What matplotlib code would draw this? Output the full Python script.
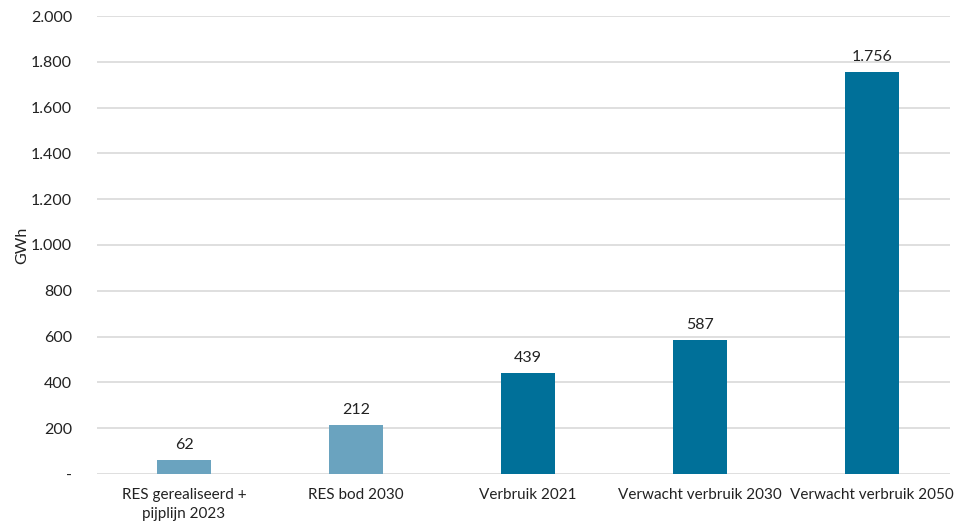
import matplotlib
matplotlib.use("Agg")
import matplotlib.pyplot as plt
from matplotlib.ticker import FuncFormatter

categories = ["RES gerealiseerd +\npijplijn 2023", "RES bod 2030", "Verbruik 2021",
              "Verwacht verbruik 2030", "Verwacht verbruik 2050"]
values = [62, 212, 439, 587, 1756]
colors = ["#6aa3bf", "#6aa3bf", "#007099", "#007099", "#007099"]

plt.rcParams["font.family"] = ["Lato", "DejaVu Sans"]

def nl_fmt(v, pos=None):
    if v == 0:
        return "-"
    return f"{int(v):,}".replace(",", ".")

fig = plt.figure(figsize=(9.55, 5.25), dpi=100)
ax = fig.add_axes([97 / 955, 1 - 474 / 525, 853 / 955, 458 / 525])

x = range(len(categories))
bars = ax.bar(x, values, width=0.31, color=colors, zorder=3)
for b, v in zip(bars, values):
    ax.text(b.get_x() + b.get_width() / 2, v + 35, nl_fmt(v), ha="center", va="bottom",
            fontsize=11.5, color="#222222")

ax.set_xlim(-0.506, 4.453)
ax.set_ylim(0, 2000)
ax.set_yticks(range(0, 2001, 200))
ax.yaxis.set_major_formatter(FuncFormatter(nl_fmt))
ax.set_xticks(list(x))
ax.set_xticklabels(categories, fontsize=11, color="#222222", linespacing=1.5)
ax.tick_params(axis="y", labelsize=11.5, labelcolor="#222222", length=0, pad=18)
ax.tick_params(axis="x", length=0, pad=10)
ax.grid(axis="y", color="#d9d9d9", linewidth=1.2, zorder=0)
for s in ax.spines.values():
    s.set_visible(False)
ax.set_ylabel("GWh", fontsize=11.5, color="#222222")
ax.yaxis.set_label_coords(-0.08, 0.5)

fig.savefig("out.png", dpi=100)
